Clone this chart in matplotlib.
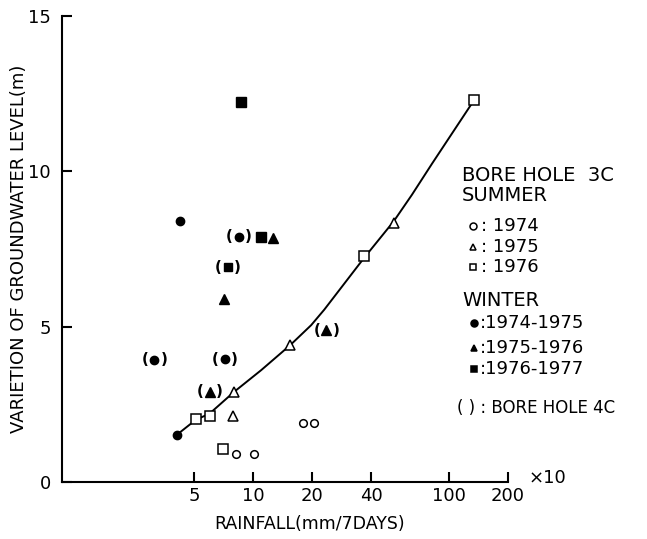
import matplotlib
matplotlib.use("Agg")
import matplotlib.pyplot as plt
from matplotlib.ticker import FixedLocator, NullLocator

# ---- data (rainfall in mm/7days x10, level in m) ----
summer_1974_x = [8.2, 10.1, 18.0, 20.5]
summer_1974_y = [0.90, 0.90, 1.90, 1.90]
summer_1975_x = [7.9, 8.0, 15.5, 52.3]
summer_1975_y = [2.12, 2.90, 4.41, 8.34]
summer_1976_x = [5.1, 6.0, 7.0, 36.7, 134.0]
summer_1976_y = [2.03, 2.12, 1.06, 7.27, 12.29]

winter_7475_x = [4.07, 4.23]
winter_7475_y = [1.51, 8.40]
winter_7576_x = [7.1, 12.7]
winter_7576_y = [5.89, 7.85]
winter_7677_x = [8.7, 11.0]
winter_7677_y = [12.23, 7.89]

# bore hole 4C points (drawn in brackets)
bh4c_7475_x = [3.14, 7.18, 8.47]
bh4c_7475_y = [3.93, 3.96, 7.89]
bh4c_7576_x = [6.0, 23.7]
bh4c_7576_y = [2.90, 4.89]
bh4c_7677_x = [7.45]
bh4c_7677_y = [6.92]

# hand-drawn trend curve
curve_x = [4.07, 5.1, 6.0, 8.0, 11.0, 15.5, 19.8, 23.1, 36.7, 52.3, 64.7, 81.9, 103.0, 134.0]
curve_y = [1.51, 2.0, 2.2, 2.9, 3.6, 4.41, 5.05, 5.55, 7.2, 8.4, 9.25, 10.25, 11.2, 12.29]

x_ticks = [5, 10, 20, 40, 100, 200]
y_ticks = [0, 5, 10, 15]

# legend entries (symbol, label) for the text block on the right
summer_marks = [("o", "white"), ("^", "white"), ("s", "white")]
summer_labels = [": 1974", ": 1975", ": 1976"]
winter_marks = [("o", "black"), ("^", "black"), ("s", "black")]
winter_labels = [":1974-1975", ":1975-1976", ":1976-1977"]

FONT = ["DejaVu Sans"]

fig = plt.figure(figsize=(6.47, 5.39), dpi=100)
ax = fig.add_axes([0.0958, 0.1058, 0.6894, 0.8642])

ax.plot(curve_x, curve_y, color="black", lw=1.4, zorder=1)

open_kw = dict(mfc="white", mec="black", mew=1.1, ls="none", zorder=3)
fill_kw = dict(color="black", ls="none", zorder=3)
ax.plot(summer_1974_x, summer_1974_y, "o", ms=5.5, **open_kw)
ax.plot(summer_1975_x, summer_1975_y, "^", ms=7, **open_kw)
ax.plot(summer_1976_x, summer_1976_y, "s", ms=6.5, **open_kw)
ax.plot(winter_7475_x, winter_7475_y, "o", ms=6, **fill_kw)
ax.plot(winter_7576_x, winter_7576_y, "^", ms=7, **fill_kw)
ax.plot(winter_7677_x, winter_7677_y, "s", ms=6.5, **fill_kw)

for xs, ys, m, ms in [(bh4c_7475_x, bh4c_7475_y, "o", 6),
                      (bh4c_7576_x, bh4c_7576_y, "^", 7),
                      (bh4c_7677_x, bh4c_7677_y, "s", 6)]:
    ax.plot(xs, ys, m, ms=ms, **fill_kw)
    for x, y in zip(xs, ys):
        for txt, dx in (("(", -7), (")", 7)):
            ax.annotate(txt, (x, y), xytext=(dx, 0), textcoords="offset points",
                        ha="center", va="center", fontsize=11,
                        fontweight="bold", family=FONT)

ax.set_xscale("log")
ax.set_xlim(1.06, 200)
ax.set_ylim(0, 15)
ax.xaxis.set_major_locator(FixedLocator(x_ticks))
ax.xaxis.set_minor_locator(NullLocator())
ax.set_xticklabels([str(t) for t in x_ticks])
ax.set_yticks(y_ticks)

for s in ("top", "right"):
    ax.spines[s].set_visible(False)
for s in ("left", "bottom"):
    ax.spines[s].set_linewidth(1.5)
ax.tick_params(direction="in", length=7, width=1.5, labelsize=13)
ax.tick_params(axis="y", pad=8)
for lab in ax.get_xticklabels() + ax.get_yticklabels():
    lab.set_family(FONT)

ax.set_xlabel("RAINFALL(mm/7DAYS)", fontsize=12.5, family=FONT)
ax.xaxis.set_label_coords(0.556, -0.07)
ax.set_ylabel("VARIETION OF GROUNDWATER LEVEL(m)", fontsize=13, family=FONT)
ax.yaxis.set_label_coords(-0.076, 0.5)
fig.text(0.817, 0.113, "×10", fontsize=13, family=FONT, va="center")

# legend block drawn as text + small markers
fig.text(0.714, 0.675, "BORE HOLE  3C", fontsize=14, family=FONT, va="center")
fig.text(0.714, 0.637, "SUMMER", fontsize=14, family=FONT, va="center")
fig.text(0.714, 0.443, "WINTER", fontsize=14, family=FONT, va="center")
fig.text(0.707, 0.243, "( ) : BORE HOLE 4C", fontsize=12, family=FONT, va="center")

summer_y = [0.580, 0.542, 0.504]
winter_y = [0.400, 0.355, 0.315]
for (m, fc), lab, y in zip(summer_marks, summer_labels, summer_y):
    ax.plot([0.731], [y], m, ms=5, mfc=fc, mec="black", mew=1.1,
            transform=fig.transFigure, clip_on=False)
    fig.text(0.744, y, lab, fontsize=13, family=FONT, va="center")
for (m, fc), lab, y in zip(winter_marks, winter_labels, winter_y):
    ax.plot([0.733], [y], m, ms=5, mfc=fc, mec="black", mew=1.1,
            transform=fig.transFigure, clip_on=False)
    fig.text(0.741, y, lab, fontsize=13, family=FONT, va="center")

fig.savefig("out.png", dpi=100)
